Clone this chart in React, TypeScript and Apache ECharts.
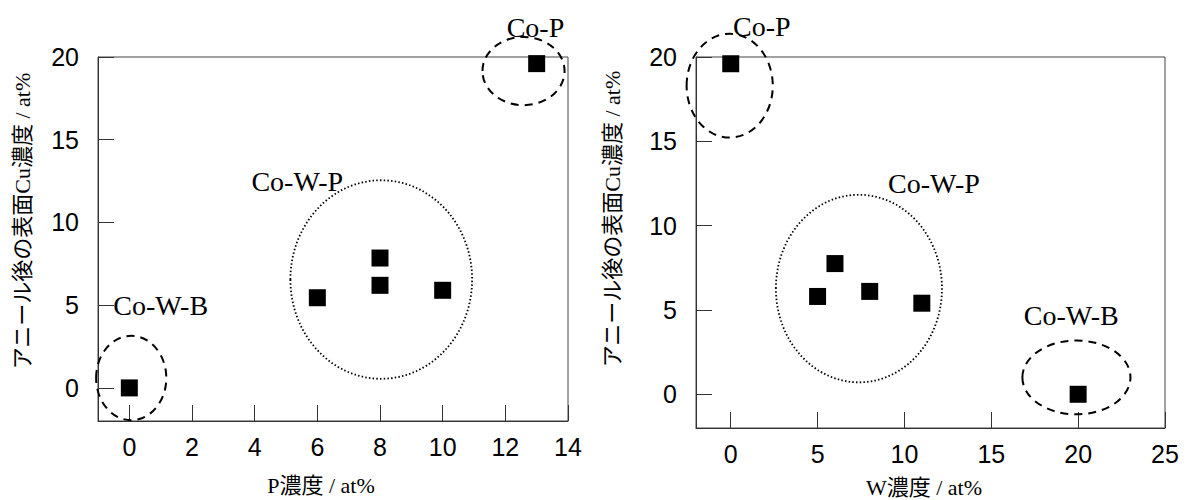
import React, { useEffect, useRef } from "react";
import * as echarts from "echarts";

// Left chart: P concentration (at%) vs surface Cu concentration after anneal (at%)
const leftPoints: [number, number][] = [
  [0, 0],
  [6, 5.45],
  [8, 7.85],
  [8, 6.2],
  [10, 5.9],
  [13, 19.6],
];
// Right chart: W concentration (at%) vs surface Cu concentration after anneal (at%)
const rightPoints: [number, number][] = [
  [20, 0],
  [11, 5.4],
  [6, 7.75],
  [8, 6.1],
  [5, 5.8],
  [0, 19.6],
];

const leftXTicks = [0, 2, 4, 6, 8, 10, 12, 14];
const rightXTicks = [0, 5, 10, 15, 20, 25];
const yTicks = [0, 5, 10, 15, 20];

const yAxisName = "アニール後の表面Cu濃度 / at%";
const leftXName = "P濃度 / at%";
const rightXName = "W濃度 / at%";

// group annotations: name, label position, ellipse centre and radii (data units), line style
const leftGroups = [
  { name: "Co-W-B", label: [1.0, 5.0], c: [0.06, 0.6], r: [1.12, 2.55], dash: "dash" },
  { name: "Co-W-P", label: [5.36, 12.5], c: [8.04, 6.55], r: [2.9, 6.0], dash: "dot" },
  { name: "Co-P", label: [12.96, 21.8], c: [12.58, 19.15], r: [1.31, 2.06], dash: "dash" },
];
const rightGroups = [
  { name: "Co-P", label: [1.79, 21.8], c: [-0.06, 18.3], r: [2.48, 3.08], dash: "dash" },
  { name: "Co-W-P", label: [11.7, 12.5], c: [7.38, 6.27], r: [4.78, 5.56], dash: "dot" },
  { name: "Co-W-B", label: [19.6, 4.67], c: [19.9, 1.0], r: [3.11, 2.19], dash: "dash" },
];

const SERIF = "Liberation Serif, Noto Sans CJK JP, serif";
const SANS = "Liberation Sans, Arial, sans-serif";

function xAxisCfg(gridIndex: number, min: number, max: number, ticks: number[]) {
  return {
    type: "value",
    gridIndex,
    min,
    max,
    axisLine: { show: true, onZero: false, lineStyle: { color: "#333", width: 1 } },
    axisTick: { show: true, inside: true, length: 16, customValues: ticks, lineStyle: { color: "#333" } },
    axisLabel: { show: true, customValues: ticks, fontSize: 25, color: "#000", fontFamily: SANS, margin: 13 },
    splitLine: { show: false },
  };
}
function yAxisCfg(gridIndex: number) {
  return {
    type: "value",
    gridIndex,
    min: -2,
    max: 20,
    axisLine: { show: true, onZero: false, lineStyle: { color: "#333", width: 1 } },
    axisTick: { show: true, inside: true, length: 16, customValues: yTicks, lineStyle: { color: "#333" } },
    axisLabel: { show: true, customValues: yTicks, fontSize: 25, color: "#000", fontFamily: SANS, margin: 19 },
    splitLine: { show: false },
  };
}

export default function App() {
  const ref = useRef<HTMLDivElement>(null);
  useEffect(() => {
    document.body.style.margin = "0";
    if (!ref.current) return;
    const chart = echarts.init(ref.current, undefined, { renderer: "svg" });
    chart.setOption({
      animation: false,
      backgroundColor: "#fff",
      grid: [
        { left: 98, top: 57, width: 470, height: 364, show: true, borderColor: "#444", borderWidth: 1 },
        { left: 696, top: 57, width: 469, height: 371, show: true, borderColor: "#444", borderWidth: 1 },
      ],
      xAxis: [xAxisCfg(0, -1, 14, leftXTicks), xAxisCfg(1, -2, 25, rightXTicks)],
      yAxis: [yAxisCfg(0), yAxisCfg(1)],
      series: [
        {
          type: "scatter",
          xAxisIndex: 0,
          yAxisIndex: 0,
          data: leftPoints,
          symbol: "rect",
          symbolSize: 17,
          itemStyle: { color: "#000", opacity: 1 },
          z: 5,
        },
        {
          type: "scatter",
          xAxisIndex: 1,
          yAxisIndex: 1,
          data: rightPoints,
          symbol: "rect",
          symbolSize: 17,
          itemStyle: { color: "#000", opacity: 1 },
          z: 5,
        },
      ],
    });

    const graphics: any[] = [];
    const addGroups = (gi: number, groups: typeof leftGroups) => {
      groups.forEach((g) => {
        const c = chart.convertToPixel({ gridIndex: gi } as any, g.c) as number[];
        const ex = chart.convertToPixel({ gridIndex: gi } as any, [g.c[0] + g.r[0], g.c[1] + g.r[1]]) as number[];
        const rx = Math.abs(ex[0] - c[0]);
        const ry = Math.abs(ex[1] - c[1]);
        graphics.push({
          type: "ellipse",
          shape: { cx: c[0], cy: c[1], rx, ry },
          style: {
            fill: "none",
            stroke: "#000",
            lineWidth: g.dash === "dash" ? 2 : 1.8,
            lineDash: g.dash === "dash" ? [8, 6] : [1.5, 2.2],
          },
          z: 10,
        });
        const lp = chart.convertToPixel({ gridIndex: gi } as any, g.label) as number[];
        graphics.push({
          type: "text",
          x: lp[0],
          y: lp[1],
          style: {
            text: g.name,
            fontSize: 28,
            fontFamily: SERIF,
            fill: "#000",
            align: "center",
            verticalAlign: "middle",
          },
          z: 10,
        });
      });
    };
    addGroups(0, leftGroups);
    addGroups(1, rightGroups);

    const nameText = (text: string, x: number, y: number, rot: number) => ({
      type: "text",
      x,
      y,
      rotation: rot,
      style: {
        text,
        fontSize: 22,
        fontFamily: SERIF,
        fill: "#000",
        align: "center",
        verticalAlign: "middle",
      },
      z: 10,
    });
    graphics.push(nameText(yAxisName, 22, 221, Math.PI / 2));
    graphics.push(nameText(yAxisName, 612, 219, Math.PI / 2));
    graphics.push(nameText(leftXName, 321, 485, 0));
    graphics.push(nameText(rightXName, 924, 487, 0));

    chart.setOption({ graphic: graphics });

    return () => chart.dispose();
  }, []);
  return <div ref={ref} style={{ width: 1189, height: 500 }} />;
}
